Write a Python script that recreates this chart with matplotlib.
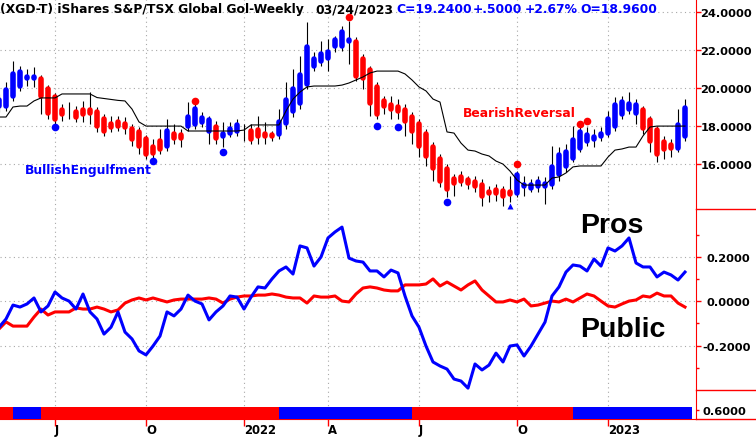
import numpy as np
import pandas as pd
import matplotlib
matplotlib.use('Agg')
import matplotlib.pyplot as plt
from matplotlib.collections import LineCollection
from matplotlib.lines import Line2D

plt.rcParams['font.family'] = ['DejaVu Sans']
plt.rcParams['font.weight'] = 'bold'

# Weekly bars, first bar 2021-05-07, last bar 2023-03-24
start_date = '2021-05-07'

opens = [18.89, 18.89, 19.42, 19.95, 20.38, 20.38, 20.64, 20.11, 19.69, 19.00,
         18.89, 18.89, 19.00, 19.00, 18.89, 18.52, 18.26, 18.37, 18.26, 17.99,
         17.84, 17.47, 17.04, 17.36, 16.78, 17.73, 17.68, 17.84, 17.94, 18.05,
         17.57, 18.10, 17.31, 17.47, 17.57, 17.99, 17.89, 17.94, 17.73, 17.68,
         17.41, 18.00, 18.63, 19.05, 20.06, 21.01, 21.27, 21.43, 22.07, 22.07,
         22.33, 22.60, 21.70, 21.12, 20.22, 19.48, 19.26, 19.16, 19.00, 18.63,
         18.26, 17.73, 17.04, 16.41, 15.88, 15.35, 15.46, 15.30, 15.19, 15.03,
         14.66, 14.77, 14.71, 14.66, 14.29, 14.66, 14.56, 14.66, 14.66, 14.77,
         15.30, 15.72, 16.14, 16.67, 17.04, 17.15, 17.31, 17.47, 17.84, 18.47,
         18.74, 18.52, 19.00, 18.47, 17.94, 17.31, 17.15, 16.67, 17.31]
highs = [19.69, 20.32, 21.43, 21.17, 21.01, 21.12, 20.70, 20.15, 19.72, 19.16,
         19.26, 19.05, 19.32, 19.79, 19.00, 18.63, 18.52, 18.52, 18.47, 18.10,
         17.94, 17.52, 17.31, 17.84, 18.37, 18.10, 17.84, 19.26, 19.16, 18.74,
         18.52, 18.26, 18.21, 18.21, 18.37, 18.10, 18.10, 18.52, 18.21, 17.73,
         18.89, 20.32, 21.01, 21.70, 23.50, 21.90, 22.49, 22.60, 22.76, 23.29,
         23.55, 22.70, 21.80, 21.17, 20.32, 19.58, 19.58, 19.42, 19.16, 18.74,
         18.37, 17.84, 17.15, 16.51, 15.98, 15.46, 15.61, 15.35, 15.35, 15.19,
         14.82, 14.93, 14.82, 15.35, 15.61, 15.35, 15.19, 15.35, 15.30, 16.94,
         16.88, 17.04, 17.99, 18.21, 17.94, 17.84, 17.94, 18.79, 19.53, 19.58,
         19.79, 19.42, 19.05, 18.52, 18.00, 17.47, 17.31, 18.89, 19.40]
lows = [18.74, 18.79, 19.32, 19.85, 20.11, 20.06, 18.63, 18.37, 18.10, 18.26,
        18.37, 18.21, 18.21, 18.10, 17.68, 17.47, 17.68, 17.73, 17.57, 16.94,
        16.51, 16.25, 16.25, 16.51, 16.67, 17.04, 16.88, 17.73, 17.84, 17.94,
        17.04, 17.04, 16.88, 17.41, 17.47, 17.20, 17.04, 17.04, 17.04, 17.20,
        17.31, 17.84, 18.47, 18.89, 19.95, 20.90, 21.17, 20.90, 21.90, 21.96,
        21.27, 20.38, 19.95, 18.52, 18.37, 18.63, 18.37, 18.37, 17.47, 17.04,
        16.35, 15.88, 15.08, 14.77, 14.24, 14.29, 14.82, 14.66, 14.50, 13.76,
        13.98, 14.03, 13.76, 13.98, 14.24, 14.29, 14.50, 14.50, 13.87, 14.66,
        15.08, 15.56, 16.09, 16.62, 16.94, 16.88, 17.20, 17.41, 17.73, 18.37,
        18.63, 18.10, 17.57, 16.62, 16.09, 16.25, 16.35, 16.62, 17.20]
closes = [19.53, 20.06, 20.90, 21.01, 20.75, 20.75, 19.42, 18.52, 18.21, 18.47,
          18.58, 18.31, 18.47, 18.52, 17.84, 17.57, 17.78, 17.84, 17.78, 17.15,
          16.78, 16.35, 16.41, 16.62, 17.89, 17.20, 17.20, 18.63, 19.05, 18.58,
          18.47, 17.20, 17.73, 17.99, 18.21, 17.68, 17.15, 17.31, 17.31, 17.31,
          18.37, 19.53, 20.11, 20.85, 22.33, 21.70, 21.96, 22.07, 22.70, 23.13,
          22.70, 20.48, 20.38, 19.05, 18.47, 18.89, 18.74, 18.63, 18.10, 17.57,
          16.78, 16.25, 15.61, 14.93, 14.50, 14.82, 14.93, 14.82, 14.66, 14.13,
          14.29, 14.29, 14.13, 14.24, 15.56, 15.03, 15.03, 15.19, 15.08, 15.98,
          16.62, 16.78, 17.41, 17.84, 17.68, 17.57, 17.73, 18.52, 19.26, 19.42,
          19.32, 19.26, 17.73, 17.04, 16.35, 16.62, 16.67, 18.21, 19.10]

# Thin black trailing line over the price bars
stop_line = [18.47, 18.47, 19.00, 19.05, 19.05, 19.32, 19.48, 19.48, 19.48, 19.69,
             19.69, 19.69, 19.69, 19.69, 19.50, 19.45, 19.40, 19.35, 19.32, 18.89,
             18.21, 17.99, 17.99, 17.99, 17.99, 17.99, 17.99, 17.73, 17.73, 17.73,
             17.73, 17.73, 17.73, 17.73, 17.73, 17.78, 18.05, 18.05, 18.05, 18.05,
             18.05, 18.79, 19.42, 19.79, 20.06, 20.11, 20.11, 20.11, 20.11, 20.16,
             20.27, 20.43, 20.59, 20.80, 20.90, 20.90, 20.90, 20.90, 20.75, 20.43,
             20.06, 19.85, 19.42, 19.26, 17.68, 17.62, 17.09, 16.72, 16.67, 16.51,
             16.41, 16.14, 15.98, 15.61, 15.14, 14.87, 14.87, 14.87, 14.87, 15.24,
             15.30, 15.51, 15.83, 15.88, 15.88, 15.88, 15.88, 16.35, 16.72, 16.78,
             16.88, 16.88, 17.47, 17.94, 17.99, 17.99, 17.99, 17.99, 17.99]

# Lower panel: Pros (blue) and Public (red)
pros = [-0.117, -0.080, -0.017, -0.026, -0.012, 0.015, -0.048, -0.021, 0.042, 0.015,
        0.001, -0.035, 0.033, -0.048, -0.080, -0.148, -0.117, -0.048, -0.139, -0.170,
        -0.224, -0.242, -0.202, -0.157, -0.048, -0.066, -0.035, 0.028, 0.001, -0.012,
        -0.084, -0.048, -0.021, 0.024, 0.019, -0.035, 0.019, 0.065, 0.060, 0.101,
        0.137, 0.155, 0.123, 0.250, 0.241, 0.159, 0.200, 0.286, 0.313, 0.335,
        0.195, 0.182, 0.177, 0.137, 0.137, 0.110, 0.141, 0.128, 0.024, -0.066,
        -0.117, -0.202, -0.274, -0.292, -0.306, -0.351, -0.360, -0.392, -0.283, -0.310,
        -0.288, -0.234, -0.274, -0.202, -0.197, -0.247, -0.202, -0.148, -0.094, 0.024,
        0.065, 0.132, 0.164, 0.159, 0.137, 0.191, 0.159, 0.241, 0.227, 0.250,
        0.286, 0.173, 0.155, 0.155, 0.110, 0.132, 0.119, 0.096, 0.132]
public = [-0.125, -0.093, -0.112, -0.112, -0.112, -0.071, -0.035, -0.062, -0.048, -0.048,
          -0.048, -0.030, -0.035, -0.035, -0.026, -0.035, -0.048, -0.039, -0.008, 0.006,
          0.015, 0.006, 0.015, 0.006, -0.003, 0.006, 0.010, 0.010, 0.010, 0.010,
          0.015, 0.010, -0.008, 0.010, 0.019, 0.024, 0.024, 0.028, 0.028, 0.033,
          0.028, 0.019, 0.015, 0.015, -0.008, 0.024, 0.019, 0.019, 0.024, 0.001,
          -0.003, 0.033, 0.060, 0.065, 0.060, 0.051, 0.047, 0.047, 0.074, 0.074,
          0.074, 0.078, 0.101, 0.069, 0.087, 0.069, 0.051, 0.074, 0.092, 0.051,
          0.024, -0.003, -0.003, 0.006, -0.003, 0.010, -0.021, -0.017, -0.008, 0.001,
          -0.003, 0.010, -0.003, 0.015, 0.033, 0.024, 0.001, -0.021, -0.026, -0.012,
          0.001, 0.006, 0.024, 0.019, 0.037, 0.024, 0.024, -0.008, -0.026]

# Signal band at the bottom: bar index where each colour segment starts
band_starts = [0, 2, 6, 40, 59, 82]
band_colors = ['R', 'B', 'R', 'B', 'R', 'B']

# Pattern markers (bar index, price level)
bull_dot_idx = [8, 22, 32, 54, 57, 64]
bull_dot_val = [17.94, 16.15, 16.62, 17.99, 17.94, 13.98]
bull_tri_idx = [73]
bull_tri_val = [13.76]
bear_dot_idx = [28, 50, 74, 83, 84]
bear_dot_val = [19.32, 23.74, 15.98, 18.10, 18.26]

RED = '#ff0000'
BLUE = '#0000ff'
GRID = dict(color='#a8a8a8', linestyle=(0, (1, 3)), linewidth=0.8)

n = len(closes)
idx = np.arange(n)
dates = pd.date_range(start_date, periods=n, freq='7D')

# Quarter ticks: first bar of Jan / Apr / Jul / Oct
tick_pos, tick_lab = [], []
for i in range(1, n):
    d = dates[i]
    if d.month != dates[i - 1].month and d.month in (1, 4, 7, 10):
        tick_pos.append(i)
        tick_lab.append(str(d.year) if d.month == 1 else d.strftime('%b')[0])

W, H = 756, 439
fig = plt.figure(figsize=(W / 100, H / 100), dpi=100)


def box(x0, y0, x1, y1):
    # pixel box measured from the top-left corner -> figure fraction
    return [x0 / W, 1 - y1 / H, (x1 - x0) / W, (y1 - y0) / H]


ax = fig.add_axes(box(0, 0, 696, 210))
ax2 = fig.add_axes(box(0, 210, 696, 420))
axb = fig.add_axes(box(0, 407.5, 696, 419.5))
xlim = (1 / 7, 697 / 7)
for a in (ax, ax2, axb):
    a.set_xlim(xlim)
    a.set_facecolor('none')
    for s in a.spines.values():
        s.set_visible(False)

# ---- price panel ----
ymin, ymax = 13.603, 24.714
ax.set_ylim(ymin, ymax)
ax.vlines(idx, lows, highs, color='black', linewidth=0.8, zorder=2)

o = np.array(opens)
c = np.array(closes)
body_colors = np.where(c >= o, BLUE, RED)
cap = 2.75 / (210 / (ymax - ymin))
segs = []
for i in idx:
    top = max(o[i], c[i]) - cap
    bot = min(o[i], c[i]) + cap
    if top <= bot:
        mid = (top + bot) / 2
        top, bot = mid + 0.005, mid - 0.005
    segs.append([(i, bot), (i, top)])
ax.add_collection(LineCollection(segs, colors=body_colors, linewidths=4.0,
                                 capstyle='round', zorder=3))
ax.plot(idx, stop_line, color='black', linewidth=0.8, zorder=4)

ax.plot(bull_dot_idx, bull_dot_val, 'o', color=BLUE, ms=5.5, mec='none', zorder=5)
ax.plot(bull_tri_idx, bull_tri_val, '^', color=BLUE, ms=5, mec='none', zorder=5)
ax.plot(bear_dot_idx, bear_dot_val, 'o', color=RED, ms=5.5, mec='none', zorder=5)

ax.set_xticks(tick_pos)
ax.tick_params(axis='x', length=0, labelbottom=False)
ax.yaxis.tick_right()
pticks = [16, 18, 20, 22, 24]
ax.set_yticks(pticks, [f'{v:.4f}' for v in pticks])
ax.tick_params(axis='y', colors=RED, labelcolor='black', length=3.6, width=1,
               pad=36.7, labelsize=8.2)
plt.setp(ax.get_yticklabels(), ha='right')
ax.spines['right'].set_visible(True)
ax.spines['right'].set_color(RED)
ax.grid(True, **GRID)

# ---- Pros / Public panel ----
ax2.set_ylim(-0.5314, 0.4167)
ax2.plot(idx, public, color=RED, linewidth=2.2, zorder=3)
ax2.plot(idx, pros, color=BLUE, linewidth=2.2, zorder=4)
ax2.yaxis.tick_right()
lticks = [-0.2, 0.0, 0.2]
ax2.set_yticks(lticks, [f'{v:.4f}' for v in lticks])
ax2.set_yticks([-0.3, -0.1, 0.1, 0.3], minor=True)
ax2.tick_params(axis='y', which='major', colors=RED, labelcolor='black',
                length=3.6, width=1, pad=35.6, labelsize=8.2)
ax2.tick_params(axis='y', which='minor', colors=RED, length=2.2, width=1)
plt.setp(ax2.get_yticklabels(), ha='right')
ax2.set_xticks(tick_pos, tick_lab)
ax2.tick_params(axis='x', colors=RED, labelcolor='black', length=5, width=1,
                pad=-1.8, labelsize=8.4)
plt.setp(ax2.get_xticklabels(), ha='left')
ax2.spines['right'].set_visible(True)
ax2.spines['right'].set_color(RED)
ax2.spines['bottom'].set_visible(True)
ax2.spines['bottom'].set_color(RED)
ax2.grid(True, which='major', **GRID)

# ---- signal band ----
axb.set_ylim(0, 1)
ends = band_starts[1:] + [n]
for s, e, col in zip(band_starts, ends, band_colors):
    axb.axvspan(s, e, color=BLUE if col == 'B' else RED, lw=0)
axb.set_xticks([])
axb.yaxis.tick_right()
axb.set_yticks([0.71], ['0.6000'])
axb.tick_params(axis='y', colors=RED, labelcolor='black', length=2.2, width=1,
                pad=2.2, labelsize=8.2)

# red separators in the right margin and the base line
for yp in (210, 391, 420):
    fig.add_artist(Line2D([696 / W, 1], [1 - yp / H] * 2, color=RED, lw=1))

# ---- texts ----
def label(x, y, s, **kw):
    fig.text(x / W, 1 - y / H, s, va='baseline', **kw)


label(0, 13.3, '(XGD-T) iShares S&P/TSX Global Gol-Weekly', fontsize=8.9)
label(315, 13.3, '03/24/2023', fontsize=8.9)
for x, s in [(396, 'C=19.2400'), (473, '+.5000'), (525, '+2.67%'), (580, 'O=18.9600')]:
    label(x, 13.3, s, fontsize=8.9, color=BLUE)
label(25, 174, 'BullishEngulfment', fontsize=8.9, color=BLUE)
label(463, 117.3, 'BearishReversal', fontsize=8.9, color=RED)
label(580, 233, 'Pros', fontsize=20.5, family='Liberation Sans')
label(580, 337, 'Public', fontsize=20.5, family='Liberation Sans')

fig.savefig('out.png', dpi=100)
